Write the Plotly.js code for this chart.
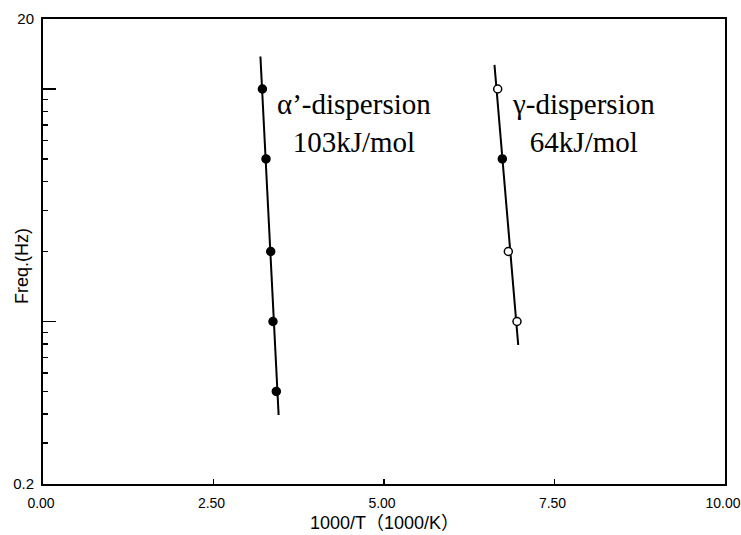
<!DOCTYPE html>
<html>
<head>
<meta charset="utf-8">
<script src="https://cdn.plot.ly/plotly-3.0.1.min.js"></script>
<style>html,body{margin:0;padding:0;background:#fff;}#chart{width:741px;height:535px;}</style>
</head>
<body>
<div id="chart"></div>
<script>
// α'-dispersion measured points
const alphaX = [3.217, 3.27, 3.339, 3.372, 3.421];
const alphaFreq = [10, 5, 2, 1, 0.5];
const alphaOpen = [false, false, false, false, false];
// α' fitted line end points
const alphaFitX = [3.188, 3.455];
const alphaFitFreq = [13.8, 0.396];

// γ-dispersion measured points
const gammaX = [6.667, 6.735, 6.823, 6.95];
const gammaFreq = [10, 5, 2, 1];
const gammaOpen = [true, false, true, true];
// γ fitted line end points
const gammaFitX = [6.62, 6.968];
const gammaFitFreq = [12.7, 0.792];

const xTickVals = [0, 2.5, 5, 7.5, 10];
const yTickVals = [0.2, 1, 10, 20];
const yTickText = ['0.2', '', '', '20'];
const yMinorVals = [0.3, 0.4, 0.5, 0.6, 0.7, 0.8, 0.9, 2, 3, 4, 5, 6, 7, 8, 9];

const xTitle = '1000/T（1000/K）';
const yTitle = 'Freq.(Hz)';
const labels = [
  {x: 4.56, text: 'α’-dispersion<br>103kJ/mol'},
  {x: 7.92, text: 'γ-dispersion<br>64kJ/mol'}
];

const serif = '"Liberation Serif", "Times New Roman", serif';
const sans = '"Liberation Sans", sans-serif';

function fills(open) { return open.map(o => o ? '#fff' : '#000'); }

const traces = [
  {x: alphaFitX, y: alphaFitFreq, mode: 'lines', line: {color: '#000', width: 2}, hoverinfo: 'skip'},
  {x: gammaFitX, y: gammaFitFreq, mode: 'lines', line: {color: '#000', width: 2}, hoverinfo: 'skip'},
  {x: alphaX, y: alphaFreq, mode: 'markers',
   marker: {symbol: 'circle', size: 8, color: fills(alphaOpen), line: {color: '#000', width: 1.5}}},
  {x: gammaX, y: gammaFreq, mode: 'markers',
   marker: {symbol: 'circle', size: 8, color: fills(gammaOpen), line: {color: '#000', width: 1.5}}}
];

const annotations = labels.map(l => ({
  x: l.x, xref: 'x', y: 0.777, yref: 'paper',
  text: l.text, showarrow: false, align: 'center',
  xanchor: 'center', yanchor: 'middle',
  font: {family: serif, size: 29, color: '#000'}
}));
annotations.push({
  x: 0.5, xref: 'paper', y: 0, yref: 'paper', yshift: -39,
  text: xTitle, showarrow: false, xanchor: 'center', yanchor: 'middle',
  font: {family: '"Liberation Sans", "Noto Sans CJK JP", sans-serif', size: 18, color: '#000'}
});
annotations.push({
  x: 0, xref: 'paper', xshift: -21, y: 0.469, yref: 'paper',
  text: yTitle, showarrow: false, textangle: -90, xanchor: 'center', yanchor: 'middle',
  font: {family: sans, size: 18, color: '#000'}
});

const layout = {
  width: 741, height: 535,
  margin: {l: 43, r: 16, t: 19, b: 51},
  paper_bgcolor: '#fff', plot_bgcolor: '#fff',
  showlegend: false,
  xaxis: {
    range: [0, 10], showgrid: false, zeroline: false,
    showline: true, linecolor: '#000', linewidth: 2, mirror: true,
    tickmode: 'array', tickvals: xTickVals, tickformat: '.2f',
    ticks: 'inside', ticklen: 5, tickcolor: '#000', tickwidth: 1.2,
    tickfont: {family: sans, size: 14, color: '#000'},
    ticklabelstandoff: 5, ticklabelshift: -2, ticklabeloverflow: 'allow'
  },
  yaxis: {
    type: 'log', range: [Math.log10(0.2), Math.log10(20)],
    showgrid: false, zeroline: false,
    showline: true, linecolor: '#000', linewidth: 2, mirror: true,
    tickmode: 'array', tickvals: yTickVals, ticktext: yTickText,
    ticks: 'inside', ticklen: 13, tickcolor: '#000', tickwidth: 1.5,
    tickfont: {family: sans, size: 15, color: '#000'},
    ticklabelstandoff: 4, ticklabeloverflow: 'allow',
    minor: {tickmode: 'array', tickvals: yMinorVals, ticks: 'inside', ticklen: 5, tickcolor: '#000', tickwidth: 1.2, showgrid: false}
  },
  annotations: annotations
};

Plotly.newPlot('chart', traces, layout, {displayModeBar: false, staticPlot: true});
</script>
</body>
</html>
